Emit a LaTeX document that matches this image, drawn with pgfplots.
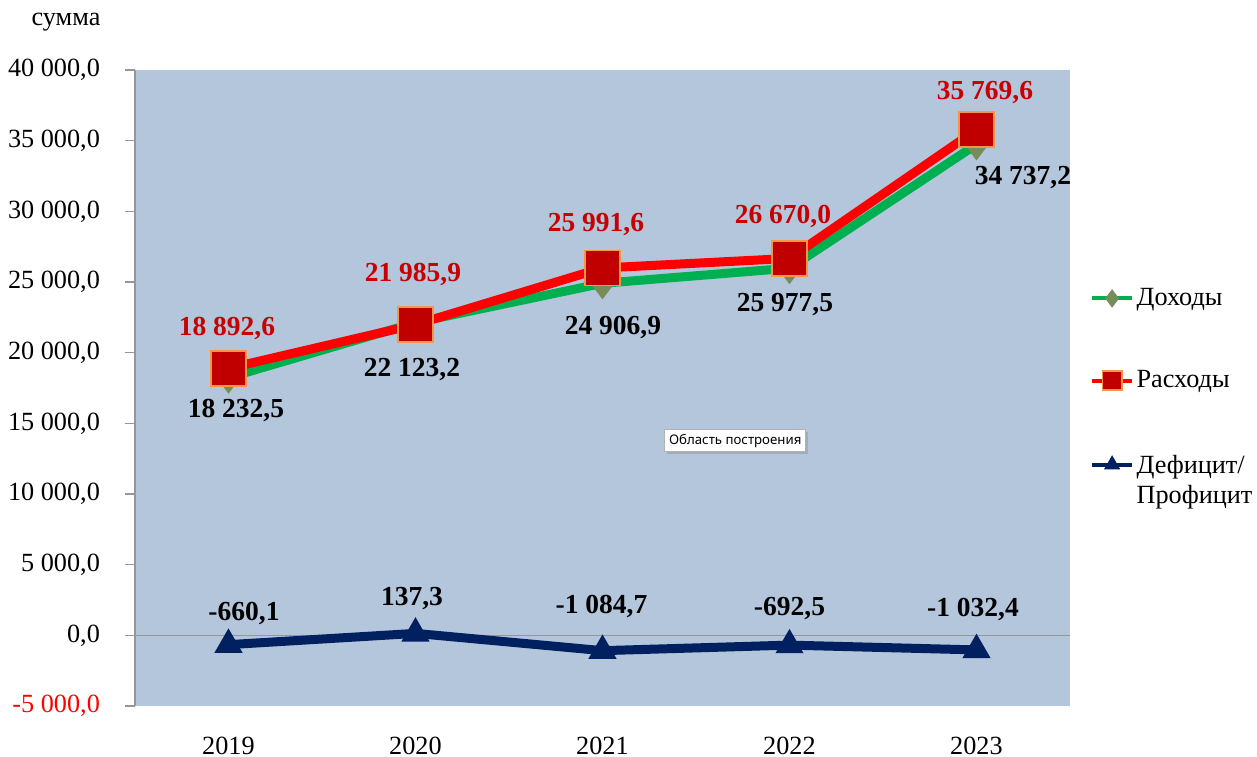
\documentclass[border=0pt]{standalone}
\usepackage{pgfplots}
\pgfplotsset{compat=1.18}
\usepackage{pgfplotstable}
\usepackage{fontspec}
\setmainfont{Liberation Serif}
\newfontfamily\uifont{Noto Sans}
\usetikzlibrary{shadows}
\definecolor{bgblue}{RGB}{180,198,220}
\definecolor{incgreen}{RGB}{0,176,80}
\definecolor{incmark}{RGB}{119,140,88}
\definecolor{expred}{RGB}{255,0,0}
\definecolor{expmark}{RGB}{192,0,0}
\definecolor{expedge}{RGB}{247,150,70}
\definecolor{defnavy}{RGB}{0,32,96}
\definecolor{lblred}{RGB}{200,0,0}
\definecolor{axgray}{RGB}{150,150,150}

\pgfplotstableread[col sep=semicolon]{
x;y;lab;dx;dy
0;18232.5;18 232,5;3;-13
1;22123.2;22 123,2;-1.4;-18.9
2;24906.9;24 906,9;4.2;-17.6
3;25977.5;25 977,5;-1.8;-14.7
4;34737.2;34 737,2;18.6;-13.4
}\inc
\pgfplotstableread[col sep=semicolon]{
x;y;lab;dx;dy
0;18892.6;18 892,6;-0.6;16
1;21985.9;21 985,9;-1;20.2
2;25991.6;25 991,6;-2.6;17.2
3;26670.0;26 670,0;-2.6;16.6
4;35769.6;35 769,6;3.4;15.1
}\expn
\pgfplotstableread[col sep=semicolon]{
x;y;lab;dx;dy
0;-660.1;-660,1;6.2;12.3
1;137.3;137,3;-1.4;14
2;-1084.7;-1 084,7;-0.4;17.6
3;-692.5;-692,5;0;14.8
4;-1032.4;-1 032,4;-1.4;16
}\defi

\begin{document}
\begin{tikzpicture}
\useasboundingbox (0pt,0pt) rectangle (502.8pt,302.4pt);
\begin{axis}[
  at={(54pt,20pt)}, anchor=south west,
  width=374pt, height=254.4pt, scale only axis,
  xmin=-0.5, xmax=4.5, ymin=-5000, ymax=40000,
  scaled y ticks=false,
  clip=false,
  axis background/.style={fill=bgblue},
  axis y line*=left, axis x line*=bottom,
  x axis line style={draw=none},
  y axis line style={axgray, line width=0.6pt},
  xtick={0,1,2,3,4},
  xticklabels={2019,2020,2021,2022,2023},
  xtick style={draw=none},
  xticklabel style={font=\fontsize{10.5}{12}\selectfont, yshift=-5pt},
  ytick={-5000,0,5000,10000,15000,20000,25000,30000,35000,40000},
  yticklabels={{\textcolor{red}{-5 000,0}},{0,0},{5 000,0},{10 000,0},{15 000,0},{20 000,0},{25 000,0},{30 000,0},{35 000,0},{40 000,0}},
  tick align=outside, major tick length=4pt,
  ytick style={axgray, line width=0.6pt},
  yticklabel style={font=\fontsize{10.5}{12}\selectfont, anchor=east, xshift=-6.5pt},
  ylabel={сумма},
  every axis y label/.style={at={(rel axis cs:0,1)}, anchor=center, xshift=-27.6pt, yshift=19.2pt, font=\fontsize{10.5}{12}\selectfont},
  legend style={at={(rel axis cs:1.021,0.662)}, anchor=north west, draw=none, fill=none,
    font=\fontsize{10.5}{12}\selectfont, row sep=22.5pt, inner sep=0pt,
    nodes={inner sep=1pt}},
  legend cell align=left,
  legend image code/.code={
    \draw[#1,line width=1.6pt,mark=none] (0pt,0pt) -- (16pt,0pt);
    \draw[#1,mark size=0.55\pgfplotmarksize] plot coordinates {(8pt,0pt)};
  },
  nodes near coords,
  point meta=explicit symbolic,
  visualization depends on={\thisrow{dx} \as \lblx},
  visualization depends on={\thisrow{dy} \as \lbly},
  every node near coord/.append style={anchor=center, xshift=\lblx pt, yshift=\lbly pt,
    font=\bfseries\fontsize{11}{13}\selectfont},
]
\draw[axgray, line width=0.6pt] (axis cs:-0.5,0) -- (axis cs:4.5,0);

\addplot[incgreen, line width=3.6pt, mark=diamond*, mark size=6pt,
  mark options={fill=incmark, draw=incmark, line width=0.5pt},
  every node near coord/.append style={text=black}]
  table[x=x, y=y, meta=lab] {\inc};
\addlegendentry{Доходы}

\addplot[expred, line width=3.6pt, mark=square*, mark size=7pt,
  mark options={fill=expmark, draw=expedge, line width=0.7pt},
  every node near coord/.append style={text=lblred}]
  table[x=x, y=y, meta=lab] {\expn};
\addlegendentry{Расходы}

\addplot[defnavy, line width=3.6pt, mark=triangle*, mark size=6pt,
  mark options={fill=defnavy, draw=defnavy, line width=0.5pt},
  every node near coord/.append style={text=black}]
  table[x=x, y=y, meta=lab] {\defi};
\addlegendentry{\begin{tabular}[t]{@{}l@{}}Дефицит/\\Профицит\end{tabular}}

\node[fill=white, draw=gray!60, line width=0.4pt, inner sep=1.8pt,
  font=\uifont\fontsize{5.3}{6}\selectfont,
  drop shadow={opacity=0.35, shadow xshift=0.8pt, shadow yshift=-0.8pt}]
  at (rel axis cs:0.642,0.417) {Область построения};
\end{axis}
\end{tikzpicture}
\end{document}
